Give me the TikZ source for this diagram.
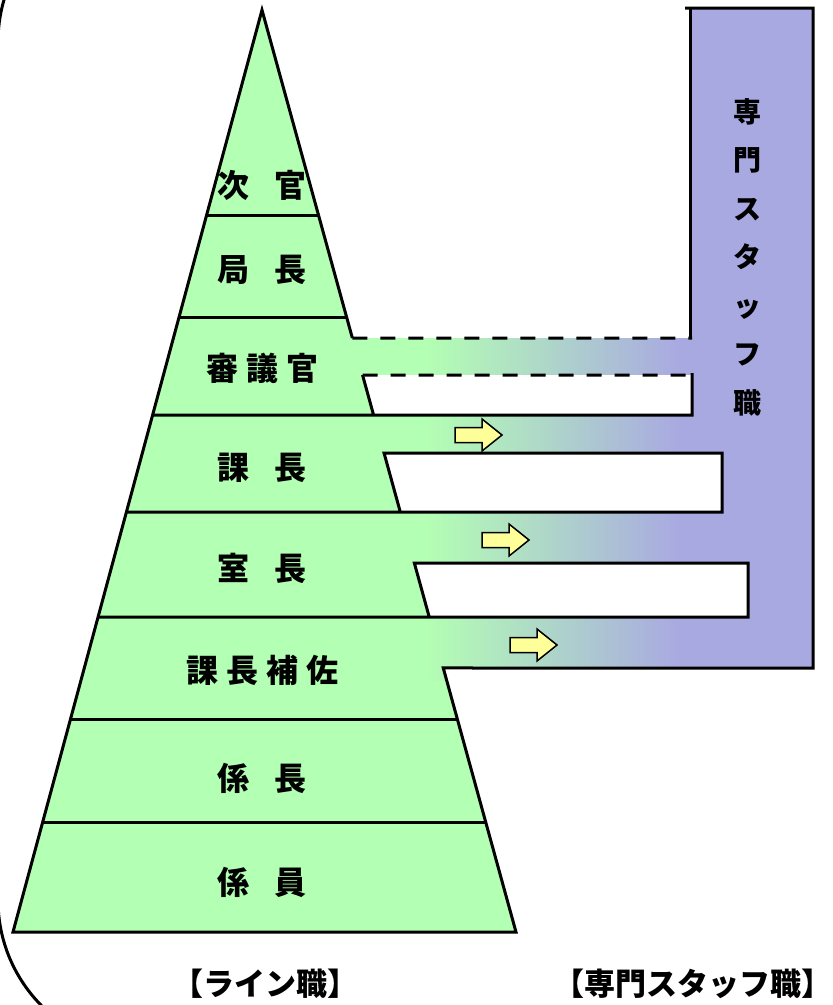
\documentclass[tikz,border=0pt]{standalone}
\usepackage{fontspec}
\newfontfamily\jp{Noto Sans CJK JP}
\usetikzlibrary{calc}
\definecolor{linegreen}{HTML}{B3FFB3}
\definecolor{staffblue}{HTML}{A9A9E1}
\definecolor{arrowyellow}{HTML}{FFFF99}

\begin{document}
\begin{tikzpicture}[x=1pt, y=-1pt, line join=miter,
    outline/.style={line width=3pt},
    dashline/.style={line width=3pt, dash pattern=on 15pt off 13pt},
    rank/.style={font=\jp\bfseries\fontsize{32}{36}\selectfont, inner sep=0pt},
    caption/.style={font=\jp\bfseries\fontsize{31}{36}\selectfont, inner sep=0pt},
    yarrow/.style={draw, line width=1.5pt, fill=arrowyellow}]
    \useasboundingbox (0,0) rectangle (833,1005);

    % Pyramid corners and the staff column
    \coordinate (apex) at (262,10);
    \coordinate (bl) at (13,932);
    \coordinate (br) at (516,932);
    \coordinate (c1) at ($(apex)!{328/922}!(br)$);
    \coordinate (c2) at (690,338);
    \coordinate (c3) at (690,8);
    \coordinate (c4) at (813,8);
    \coordinate (c5) at (813,668);
    \coordinate (c6) at ($(apex)!{658/922}!(br)$);

    % Row boundaries
    \foreach \y [count=\i] in {215,318,415,512,617,720,822} {
        \coordinate (l\i) at ($(apex)!{(\y-10)/922}!(bl)$);
        \coordinate (r\i) at ($(apex)!{(\y-10)/922}!(br)$);
    }

    % Fill: green pyramid, band fading into the staff column
    \fill[linegreen] (apex) -- (c1) -- (c2) -- (c3) -- (c4) -- (c5) -- (c6) -- (br) -- (bl) -- cycle;
    \begin{scope}
        \clip (apex) -- (c1) -- (c2) -- (c3) -- (c4) -- (c5) -- (c6) -- (br) -- (bl) -- cycle;
        \fill[left color=linegreen, right color=staffblue] (425,330) rectangle (680,680);
        \fill[staffblue] (680,0) rectangle (820,680);
    \end{scope}

    % Gaps between the band rows
    \coordinate (h1a) at ($(apex)!{365/922}!(br)$);
    \coordinate (h2a) at ($(apex)!{443/922}!(br)$);
    \coordinate (h3a) at ($(apex)!{553/922}!(br)$);
    \fill[white] (h1a) -- (692,375) -- (692,415) -- (r3) -- cycle;
    \fill[white] (h2a) -- (722,453) -- (722,512) -- (r4) -- cycle;
    \fill[white] (h3a) -- (748,563) -- (748,617) -- (r5) -- cycle;

    % Outlines
    \draw[outline] (c1) -- (apex) -- (bl) -- (br) -- (c6) -- (c5) -- (c4) -- (685,8);
    \draw[outline] (c3) -- (c2);
    \draw[dashline] (c1) -- (692,338);
    \draw[dashline] (h1a) -- (692,375);
    \draw[outline] (h1a) -- (r3) (l3) -- (692,415) -- (692,373);
    \draw[outline] (l4) -- (722,512) -- (722,453) -- (h2a) -- (r4);
    \draw[outline] (l5) -- (748,617) -- (748,563) -- (h3a) -- (r5);
    \foreach \i in {1,2,6,7}
        \draw[outline] (l\i) -- (r\i);

    % Big rounded frame on the left
    \draw[outline] (148,-108) arc[start angle=270, end angle=180, radius=150]
        -- (-2,900) arc[start angle=180, end angle=90, radius=150];

    % Arrows towards the staff column
    \foreach \ax/\ay in {455/435, 482/540, 510/645}
        \draw[yarrow] (\ax,\ay-7.5) -- ++(27,0) -- ++(0,-8.5) -- ++(20,16)
            -- ++(-20,16) -- ++(0,-8.5) -- ++(-27,0) -- cycle;

    % Rank labels
    \node[rank] (jikan) at (262,185) {次\hspace{25pt}官};
    \node[rank] (kyokucho) at (262,270) {局\hspace{25pt}長};
    \node[rank] (shingikan) at (262,368) {審\hspace{8pt}議\hspace{8pt}官};
    \node[rank] (kacho) at (262,468) {課\hspace{25pt}長};
    \node[rank] (shitsucho) at (262,568) {室\hspace{25pt}長};
    \node[rank] (hosa) at (262,670) {課\hspace{8pt}長\hspace{8pt}補\hspace{8pt}佐};
    \node[rank] (kakaricho) at (262,778) {係\hspace{25pt}長};
    \node[rank] (kakariin) at (262,882) {係\hspace{25pt}員};

    % Staff column, vertical
    \node[font=\jp\bfseries\fontsize{28}{48.5}\selectfont, align=center, inner sep=0pt] (staff-col) at (747,257)
        {専\\門\\ス\\タ\\ッ\\フ\\職};

    % Captions
    \node[caption] (line-label) at (265,984) {【ライン職】};
    \node[caption] (staff-label) at (693,984) {【専門スタッフ職】};
\end{tikzpicture}
\end{document}
